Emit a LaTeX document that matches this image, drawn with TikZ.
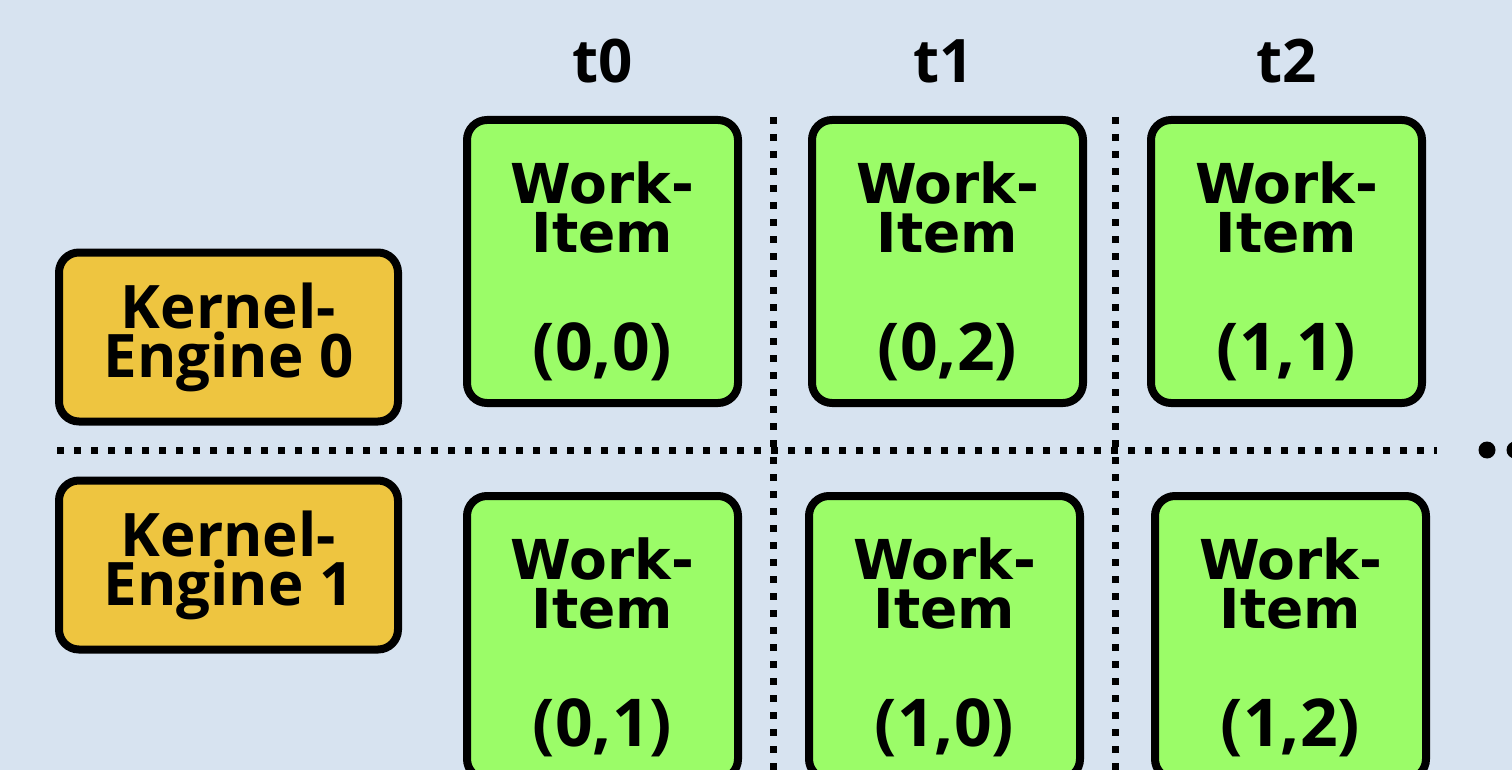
\documentclass[tikz,border=0pt]{standalone}
\usepackage{fontspec}
\setmainfont{Open Sans}
\newfontfamily\wifont{DejaVu Sans}
\definecolor{bg}{HTML}{D7E3F0}
\definecolor{wigreen}{HTML}{9BFC68}
\definecolor{keyellow}{HTML}{EEC540}
\begin{document}
\begin{tikzpicture}[x=1pt,y=-1pt,
  wibox/.style={draw=black, line width=8pt, fill=wigreen, rounded corners=20pt, minimum width=271pt, minimum height=283pt, inner sep=0pt},
  kebox/.style={draw=black, line width=8pt, fill=keyellow, rounded corners=20pt, minimum width=339pt, minimum height=169pt, inner sep=0pt},
  witext/.style={font=\wifont\bfseries\fontsize{55}{49}\selectfont, align=center, anchor=base, inner sep=0pt},
  idtext/.style={font=\bfseries\fontsize{66}{66}\selectfont, anchor=base, inner sep=0pt},
  ketext/.style={font=\bfseries\fontsize{60}{49}\selectfont, align=center, anchor=base, inner sep=0pt},
  head/.style={font=\bfseries\fontsize{60}{60}\selectfont, anchor=base, inner sep=0pt},
  sepline/.style={line width=7pt, dash pattern=on 7pt off 10pt},
]
\fill[bg] (0,0) rectangle (1512,770);
\clip (0,0) rectangle (1512,770);
% separators
\coordinate (hl) at (57,450);
\coordinate (hr) at (1437,450);
\coordinate (v1t) at (773,117);
\coordinate (v1b) at (773,772);
\coordinate (v2t) at (1115,117);
\coordinate (v2b) at (1115,772);
\draw[sepline] (hl) -- (hr);
\draw[sepline] (v1t) -- (v1b);
\draw[sepline] (v2t) -- (v2b);
% continuation dots
\fill (1487,450) circle (8.5);
\fill (1515,450) circle (8.5);
% headings
\node[head] (t0) at (603,83) {t0};
\node[head] (t1) at (944,83) {t1};
\node[head] (t2) at (1287,83) {t2};
% kernel engines
\node[kebox] (ke0) at (228.5,337) {};
\node[ketext] (ke0t) at (228.5,377) {Kernel-\\Engine 0};
\node[kebox] (ke1) at (228.5,565) {};
\node[ketext] (ke1t) at (228.5,605) {Kernel-\\Engine 1};
% work items top row
\node[wibox] (w00) at (602.5,261.5) {};
\node[witext] (w00t) at (602.5,252) {Work-\\Item};
\node[idtext] (w00i) at (602.5,370) {(0,0)};
\node[wibox] (w02) at (947.5,261.5) {};
\node[witext] (w02t) at (947.5,252) {Work-\\Item};
\node[idtext] (w02i) at (947.5,370) {(0,2)};
\node[wibox] (w11) at (1286.5,261.5) {};
\node[witext] (w11t) at (1286.5,252) {Work-\\Item};
\node[idtext] (w11i) at (1286.5,370) {(1,1)};
% work items bottom row
\node[wibox] (w01) at (602.5,637.5) {};
\node[witext] (w01t) at (602.5,628) {Work-\\Item};
\node[idtext] (w01i) at (602.5,746) {(0,1)};
\node[wibox] (w10) at (944.5,637.5) {};
\node[witext] (w10t) at (944.5,628) {Work-\\Item};
\node[idtext] (w10i) at (944.5,746) {(1,0)};
\node[wibox] (w12) at (1290.5,637.5) {};
\node[witext] (w12t) at (1290.5,628) {Work-\\Item};
\node[idtext] (w12i) at (1290.5,746) {(1,2)};
\end{tikzpicture}
\end{document}
